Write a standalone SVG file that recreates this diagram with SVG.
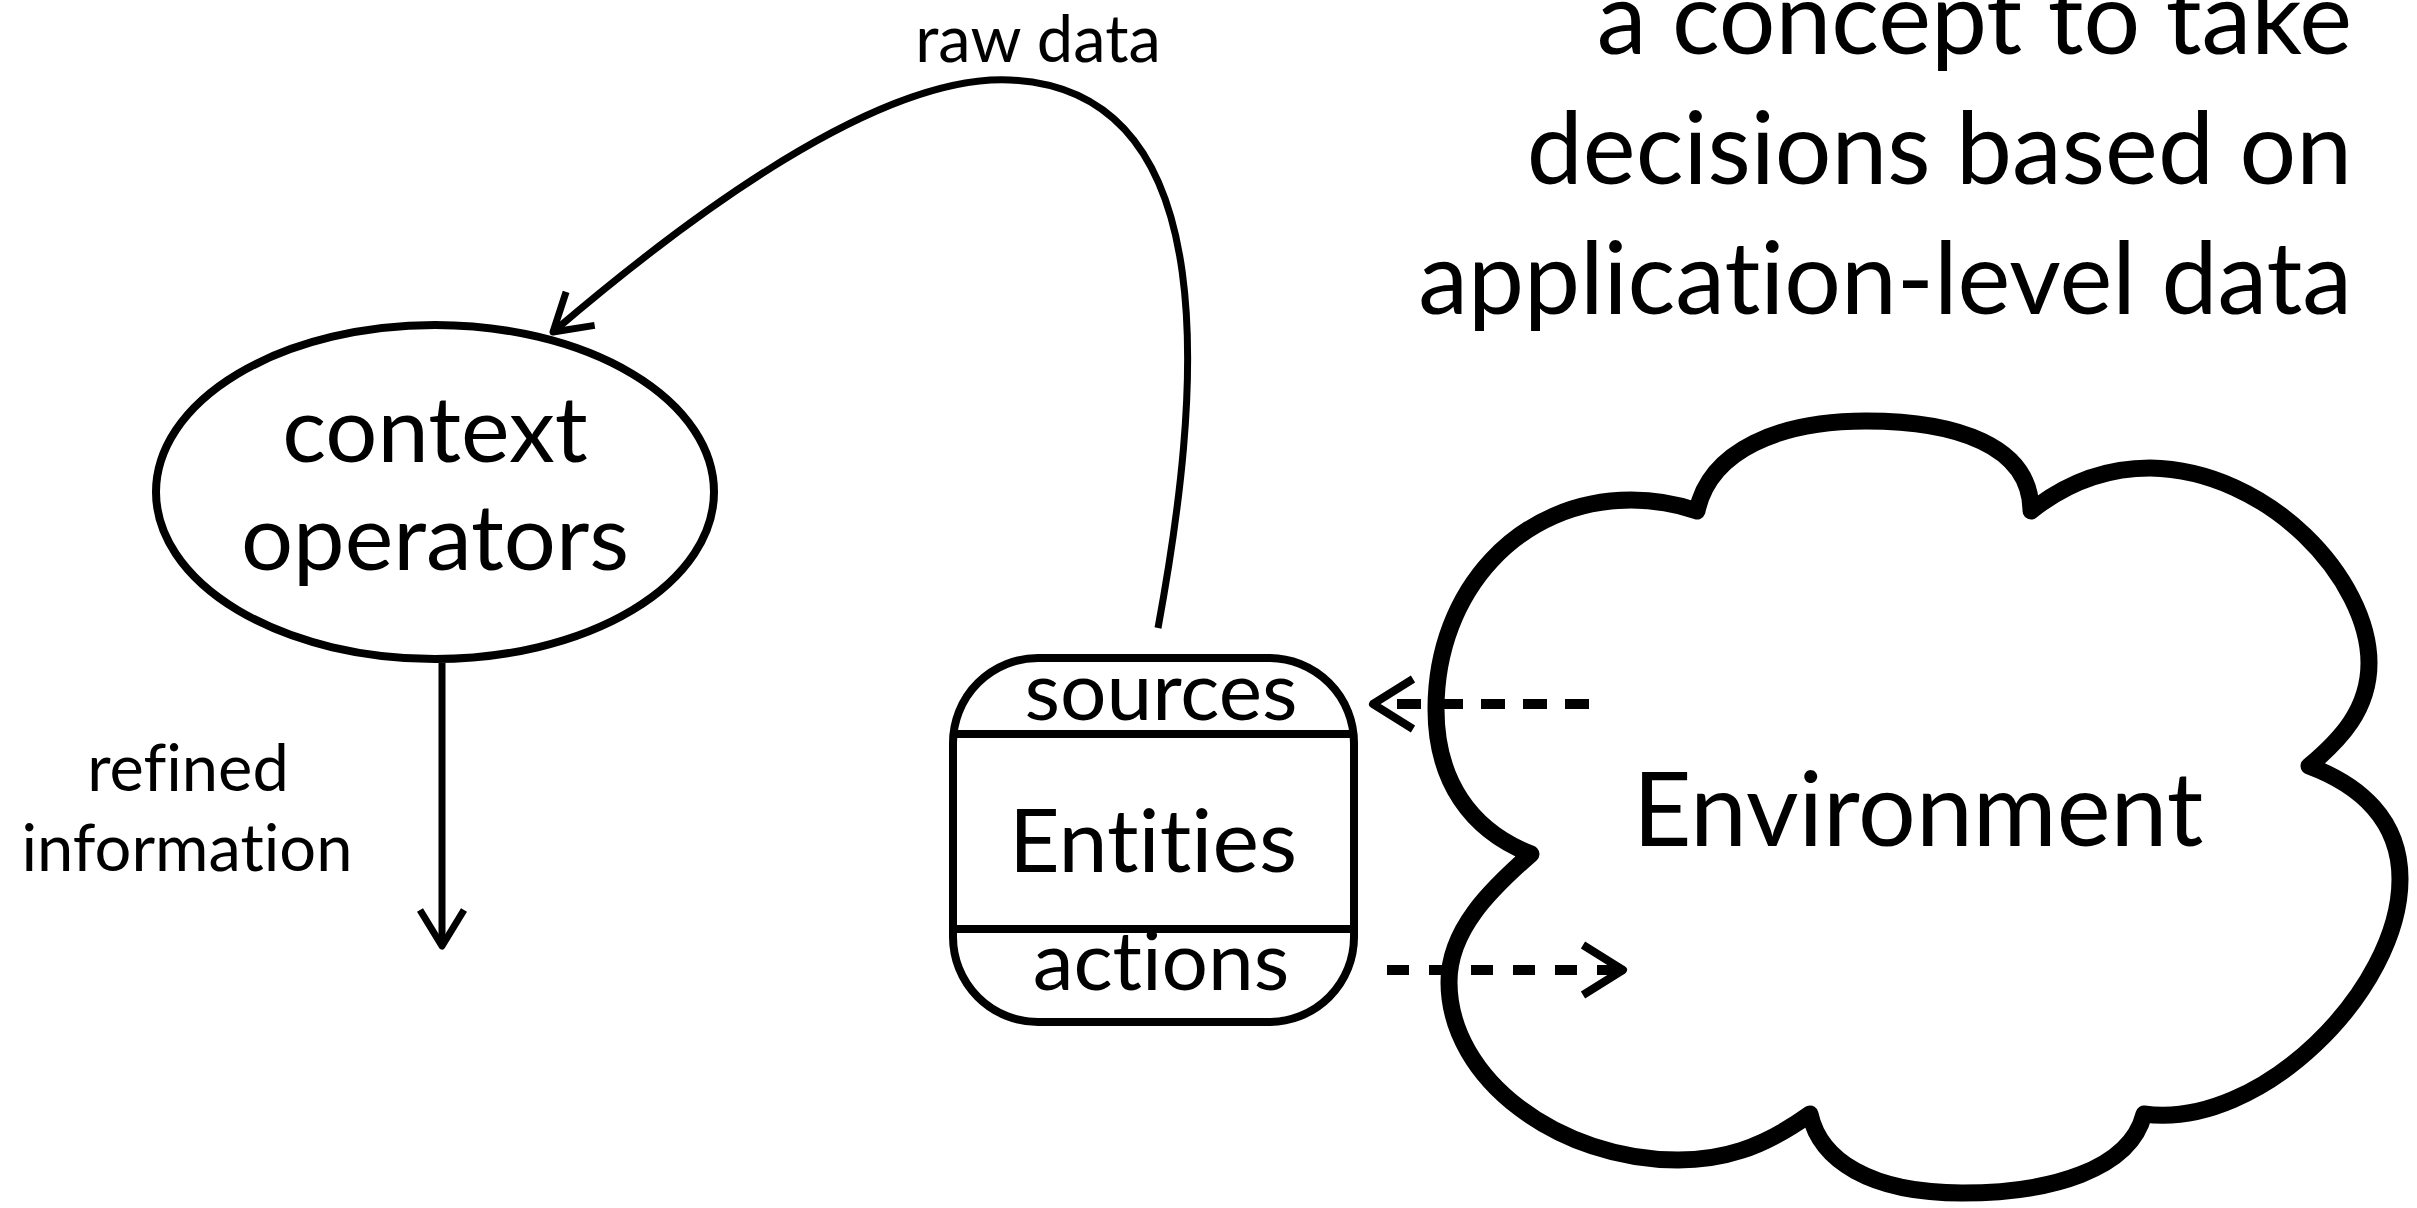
<svg xmlns="http://www.w3.org/2000/svg" width="2417" height="1208" viewBox="0 0 2417 1208">
<style>
text{font-family:Lato,"Open Sans","Liberation Sans",sans-serif;fill:#000;font-variant-ligatures:none;font-feature-settings:"liga" 0,"clig" 0}
.big{font-size:92px;text-anchor:middle}
.lbl{font-size:65px;text-anchor:middle}
.title{font-size:100px;text-anchor:end}
.line{fill:none;stroke:#000;stroke-width:7}
.dash{fill:none;stroke:#000;stroke-width:10}
</style>
<defs>
<marker id="arr" markerUnits="userSpaceOnUse" orient="auto" overflow="visible" markerWidth="1" markerHeight="1" refX="0" refY="0">
<path d="M-36,-22 L0,0 L-36,22" fill="none" stroke="#000" stroke-width="7" stroke-linejoin="round"/>
</marker>
<marker id="arrB" markerUnits="userSpaceOnUse" orient="auto" overflow="visible" markerWidth="1" markerHeight="1" refX="0" refY="0">
<path d="M-40,-25 L0,0 L-40,25" fill="none" stroke="#000" stroke-width="8" stroke-linejoin="round"/>
</marker>
</defs>
<g id="title">
<text class="title" x="2352" y="54">a concept to take</text>
<text class="title" x="2352" y="184">decisions based on</text>
<text class="title" x="2352" y="314">application-level data</text>
</g>
<g id="environment">
<path d="M1697,511 C1710,450 1780,421 1866,421 C1955,421 2031,445 2031,511 C2070,480 2110,468 2150,468 C2270,470 2369,580 2369,663 C2369,710 2340,740 2309,766 C2360,785 2400,820 2400,879 C2400,990 2260,1130 2144,1114 C2130,1170 2050,1193 1962,1193 C1870,1193 1820,1160 1810,1114 C1760,1150 1720,1160 1678,1160 C1560,1160 1449,1080 1449,982 C1449,930 1490,890 1531,854 C1470,830 1436,780 1436,709 C1436,590 1520,500 1631,500 C1655,500 1680,505 1697,511 Z" fill="#fff" stroke="#000" stroke-width="17" stroke-linejoin="round"/>
<text class="big" x="1918" y="846" style="font-size:102px">Environment</text>
</g>
<g id="context-operators">
<ellipse cx="435" cy="492" rx="279" ry="167" fill="#fff" stroke="#000" stroke-width="8"/>
<text class="big" x="435" y="462">context</text>
<text class="big" x="435" y="570">operators</text>
</g>
<g id="entities">
<rect x="953" y="658" width="401" height="364" rx="85" ry="85" fill="#fff" stroke="#000" stroke-width="8"/>
<line x1="953" y1="734" x2="1354" y2="734" stroke="#000" stroke-width="8"/>
<line x1="953" y1="929" x2="1354" y2="929" stroke="#000" stroke-width="8"/>
<text class="big" x="1161" y="720" style="font-size:82px">sources</text>
<text class="big" x="1153" y="872" style="font-size:88px">Entities</text>
<text class="big" x="1161" y="990" style="font-size:82px">actions</text>
</g>
<g id="connectors">
<path class="line" d="M1158,628 C1200,400 1230,90 1010,80 C880,74 690,215 553,332" marker-end="url(#arr)"/>
<path class="line" d="M442,663 L442,946" marker-end="url(#arr)"/>
<path class="dash" d="M1589,704 L1373,704" stroke-dasharray="24 18" marker-end="url(#arrB)"/>
<path class="dash" d="M1387,970 L1623,970" stroke-dasharray="22 20" marker-end="url(#arrB)"/>
</g>
<g id="labels">
<text class="lbl" x="1038" y="62">raw data</text>
<text class="lbl" x="188" y="791">refined</text>
<text class="lbl" x="187" y="871">information</text>
</g>
</svg>
